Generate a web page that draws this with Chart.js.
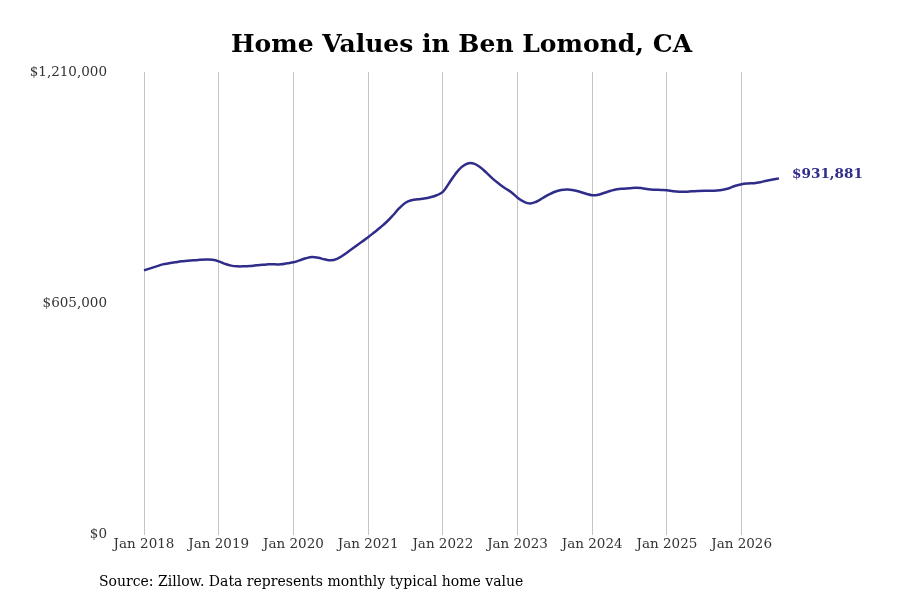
<!DOCTYPE html>
<html lang="en">
<head>
    <meta charset="UTF-8">
    <title>Home Values in Ben Lomond, CA</title>
    <script src="https://cdn.jsdelivr.net/npm/chart.js"></script>
    <style>
        html, body {
            margin: 0;
            padding: 0;
            background: #ffffff;
        }
        .chart-box {
            position: relative;
            width: 900px;
            height: 600px;
        }
    </style>
</head>
<body>
    <div class="chart-box">
        <canvas id="homeChart"></canvas>
    </div>
    <script>
        // monthly typical home value, Jan 2018 .. Jul 2026
        const values2018 = [691400, 696700, 701900, 707100, 709800, 712400, 715000, 716300, 717600, 718900, 719500, 718900];
        const values2019 = [715000, 708500, 703700, 701900, 701900, 702700, 704500, 705800, 707100, 707100, 707100, 709800];
        const values2020 = [712400, 717600, 722900, 726300, 724200, 720200, 717600, 721500, 730700, 742500, 754300, 766100];
        const values2021 = [777900, 790900, 804100, 818500, 835500, 853800, 868200, 874800, 877400, 879200, 882600, 887800];
        const values2022 = [896500, 919300, 942900, 961200, 970900, 970400, 961200, 946800, 931100, 918000, 906200, 895700];
        const values2023 = [881300, 870800, 866100, 870800, 880000, 889200, 897000, 901700, 902800, 901000, 897000, 891800];
        const values2024 = [887800, 889200, 894400, 899600, 903600, 904900, 906200, 907500, 906200, 903600, 902300, 901700];
        const values2025 = [901000, 898300, 897000, 897000, 898300, 899100, 899600, 899600, 900200, 902300, 906200, 912700];
        const values2026 = [916700, 918500, 919300, 921900, 925800, 929000, 931881];

        const homeValues = [].concat(values2018, values2019, values2020, values2021,
            values2022, values2023, values2024, values2025, values2026);

        const monthNames = ['Jan', 'Feb', 'Mar', 'Apr', 'May', 'Jun', 'Jul', 'Aug', 'Sep', 'Oct', 'Nov', 'Dec'];
        const startYear = 2018;
        const monthLabels = homeValues.map((v, i) => `${monthNames[i % 12]} ${startYear + Math.floor(i / 12)}`);

        const yTicks = [0, 605000, 1210000];
        const lastLabel = '$931,881';

        const lineColor = '#2f2c8a';
        const serif = "'DejaVu Serif', serif";

        function money(v) {
            return '$' + Number(v).toLocaleString('en-US');
        }

        // end label and source note
        const extraText = {
            id: 'extraText',
            afterDraw(chart) {
                const ctx = chart.ctx;
                const meta = chart.getDatasetMeta(0);
                const last = meta.data[meta.data.length - 1];
                ctx.save();
                ctx.fillStyle = lineColor;
                ctx.font = "bold 13.6px " + serif;
                ctx.textAlign = 'left';
                ctx.textBaseline = 'middle';
                ctx.fillText(lastLabel, last.x + 13, last.y - 4);

                ctx.fillStyle = '#000000';
                ctx.font = "14px " + serif;
                ctx.textBaseline = 'middle';
                ctx.fillText('Source: Zillow. Data represents monthly typical home value', 99, 582);
                ctx.restore();
            }
        };

        const ctx = document.getElementById('homeChart').getContext('2d');
        new Chart(ctx, {
            type: 'line',
            data: {
                labels: monthLabels,
                datasets: [{
                    label: 'Home value',
                    data: homeValues,
                    borderColor: lineColor,
                    borderWidth: 2.5,
                    pointRadius: 0,
                    tension: 0.4,
                    fill: false
                }]
            },
            options: {
                responsive: true,
                maintainAspectRatio: false,
                animation: false,
                layout: {
                    padding: { left: 0, right: 121, top: 0, bottom: 45 }
                },
                plugins: {
                    legend: { display: false },
                    tooltip: { enabled: false },
                    title: {
                        display: true,
                        text: 'Home Values in Ben Lomond, CA',
                        fullSize: false,
                        color: '#000000',
                        font: { family: serif, size: 25, weight: 'bold' },
                        padding: { top: 30, bottom: 12 }
                    }
                },
                scales: {
                    x: {
                        offset: false,
                        grid: {
                            color: '#c4c4c4',
                            lineWidth: 1,
                            drawTicks: false
                        },
                        border: { display: false },
                        ticks: {
                            autoSkip: false,
                            maxRotation: 0,
                            padding: 2,
                            color: '#333333',
                            font: { family: serif, size: 13.5 },
                            callback: function (value, index) {
                                return index % 12 === 0 ? monthLabels[index] : null;
                            }
                        }
                    },
                    y: {
                        min: 0,
                        max: 1210000,
                        afterBuildTicks: axis => {
                            axis.ticks = yTicks.map(v => ({ value: v }));
                        },
                        afterFit: axis => {
                            axis.width = 144;
                        },
                        grid: { display: false },
                        border: { display: false },
                        ticks: {
                            padding: 29,
                            color: '#333333',
                            font: { family: serif, size: 13.5 },
                            callback: v => money(v)
                        }
                    }
                }
            },
            plugins: [extraText]
        });
    </script>
</body>
</html>
